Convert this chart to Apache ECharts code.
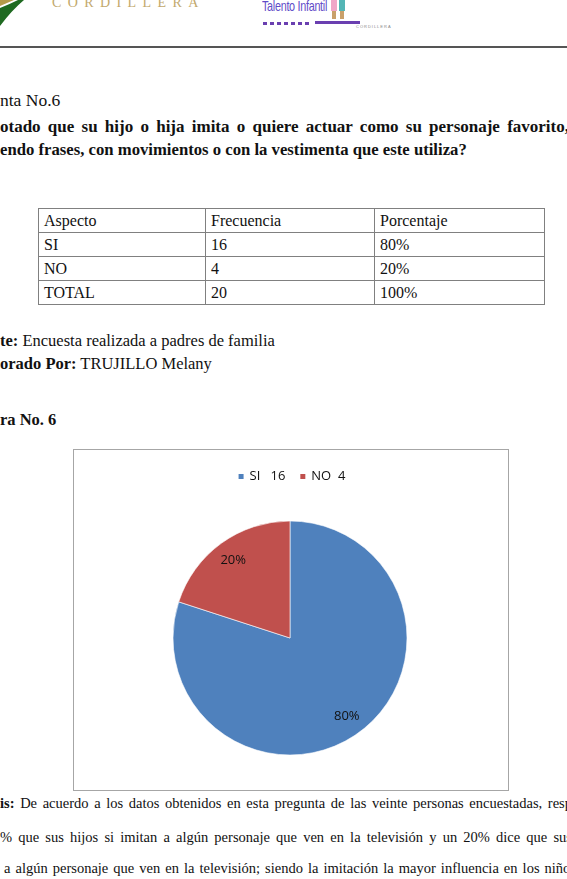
<!DOCTYPE html>
<html>
<head>
<meta charset="utf-8">
<script src="https://cdn.jsdelivr.net/npm/echarts@6/dist/echarts.min.js"></script>
<style>
  html, body { margin: 0; padding: 0; background: #fff; }
  body { width: 567px; height: 879px; overflow: hidden; position: relative; font-family: "Liberation Serif", "Times New Roman", serif; color: #111; }
  .t { position: absolute; white-space: nowrap; font-size: 16.5px; line-height: 18px; }
  .b { font-weight: bold; }
  .j { position: absolute; left: 0; width: 572px; font-size: 14.5px; line-height: 16px; text-align: justify; text-align-last: justify; white-space: nowrap; }
  #tbl { position: absolute; left: 38px; top: 208px; border-collapse: collapse; font-size: 16px; }
  #tbl td { border: 1px solid #808080; height: 23px; padding: 0 0 0 5px; line-height: 18px; vertical-align: middle; }
  #box { position: absolute; left: 73px; top: 449px; width: 434px; height: 340px; border: 1px solid #a6a6a6; }
  #chart { position: absolute; left: 74px; top: 450px; width: 434px; height: 340px; }
</style>
</head>
<body>
<!-- header decorations -->
<svg style="position:absolute;left:0;top:0" width="567" height="50">
  <path d="M0,8 Q10,4 18,0 L24,0 Q12,10 0,26 Z" fill="#1f6a21"/>
  <path d="M0,0 L14,0 Q7,3 0,6 Z" fill="#b59a4a"/>
  <g fill="#6a3fb0">
    <rect x="263" y="22" width="4" height="3"/><rect x="270" y="22" width="4" height="3"/>
    <rect x="277" y="22" width="4" height="3"/><rect x="284" y="22" width="4" height="3"/>
    <rect x="291" y="22" width="4" height="3"/><rect x="298" y="22" width="4" height="3"/>
    <rect x="305" y="22" width="4" height="3"/><rect x="315" y="21" width="45" height="3"/>
  </g>
  <rect x="331" y="0" width="6" height="11" fill="#f0a6c8"/>
  <rect x="339" y="0" width="6" height="11" fill="#54b5b5"/>
  <rect x="332" y="11" width="4" height="8" fill="#c9a06a"/>
  <rect x="340" y="11" width="4" height="8" fill="#c9a06a"/>
  <rect x="0" y="46" width="567" height="2" fill="#555"/>
</svg>
<div class="t" style="left:52px;top:-6px;font-size:14px;letter-spacing:6.4px;color:#c2a86c;">CORDILLERA</div>
<div class="t" style="left:262px;top:-3px;font-family:'Liberation Sans',sans-serif;font-size:15px;color:#5f4cc8;transform:scaleX(0.72);transform-origin:left;letter-spacing:-0.4px;">Talento Infantil</div>
<div class="t" style="left:356px;top:24px;font-family:'Liberation Sans',sans-serif;font-size:4px;line-height:6px;letter-spacing:1px;color:#888;">CORDILLERA</div>

<div class="t" style="left:0;top:91px;font-size:17.5px;">nta No.6</div>
<div class="t b" style="left:0;top:118px;font-size:17px;width:569px;text-align:justify;text-align-last:justify;">otado que su hijo o hija imita o quiere actuar como su personaje favorito,</div>
<div class="t b" style="left:0;top:141px;font-size:16.7px;">endo frases, con movimientos o con la vestimenta que este utiliza?</div>

<table id="tbl"></table>

<div class="t" style="left:0;top:332px;"><b>te:</b> Encuesta realizada a padres de familia</div>
<div class="t" style="left:0;top:355px;"><b>orado Por:</b> TRUJILLO Melany</div>
<div class="t b" style="left:0;top:411px;">ra No. 6</div>

<div id="box"></div>
<div id="chart"></div>

<div class="j" style="top:795px;"><b>is:</b> De acuerdo a los datos obtenidos en esta pregunta de las veinte personas encuestadas, resp</div>
<div class="j" style="top:829px;">% que sus hijos si imitan a algún personaje que ven en la televisión y un 20% dice que sus</div>
<div class="j" style="top:860px;left:4px;">a algún personaje que ven en la televisión; siendo la imitación la mayor influencia en los niños</div>

<script>
// ---- data ----
var tableHeader = ['Aspecto', 'Frecuencia', 'Porcentaje'];
var categories = ['SI', 'NO'];
var frecuencia = [16, 4];
var porcentaje = ['80%', '20%'];
var totalRow = ['TOTAL', 20, '100%'];
var legendNames = ['SI   16', 'NO  4'];
var colors = ['#4f81bd', '#c0504d'];

// ---- table ----
var widths = [161, 163, 164];
var tbl = document.getElementById('tbl');
var rows = [tableHeader];
for (var i = 0; i < categories.length; i++) rows.push([categories[i], frecuencia[i], porcentaje[i]]);
rows.push(totalRow);
rows.forEach(function (r) {
  var tr = document.createElement('tr');
  r.forEach(function (c, k) {
    var td = document.createElement('td');
    td.style.width = widths[k] + 'px';
    td.textContent = c;
    tr.appendChild(td);
  });
  tbl.appendChild(tr);
});

// ---- chart ----
var pieData = legendNames.map(function (n, i) {
  return { name: n, value: frecuencia[i], itemStyle: { color: colors[i] } };
});
var chart = echarts.init(document.getElementById('chart'), null, { renderer: 'canvas' });
var R = 117;
chart.setOption({
  animation: false,
  legend: {
    top: 15, left: 'center',
    itemWidth: 7, itemHeight: 7, itemGap: 13,
    icon: 'rect',
    textStyle: { fontFamily: 'Open Sans', fontSize: 13, color: '#111' },
    data: legendNames
  },
  series: [
    {
      type: 'pie',
      center: [216, 188],
      radius: [0, R],
      startAngle: 90,
      clockwise: true,
      label: { show: false },
      labelLine: { show: false },
      itemStyle: { borderColor: '#ffffff', borderWidth: 0.6 },
      emphasis: { disabled: true },
      data: pieData
    },
    {
      type: 'pie',
      center: [216, 188],
      radius: [R * 0.6, R],
      startAngle: 90,
      clockwise: true,
      silent: true,
      legendHoverLink: false,
      itemStyle: { color: 'rgba(0,0,0,0)' },
      label: {
        show: true, position: 'inside',
        formatter: '{d}%',
        fontFamily: 'Open Sans', fontSize: 13, color: '#111'
      },
      labelLine: { show: false },
      emphasis: { disabled: true },
      data: legendNames.map(function (n, i) { return { name: n, value: frecuencia[i] }; })
    }
  ]
});
</script>
</body>
</html>
